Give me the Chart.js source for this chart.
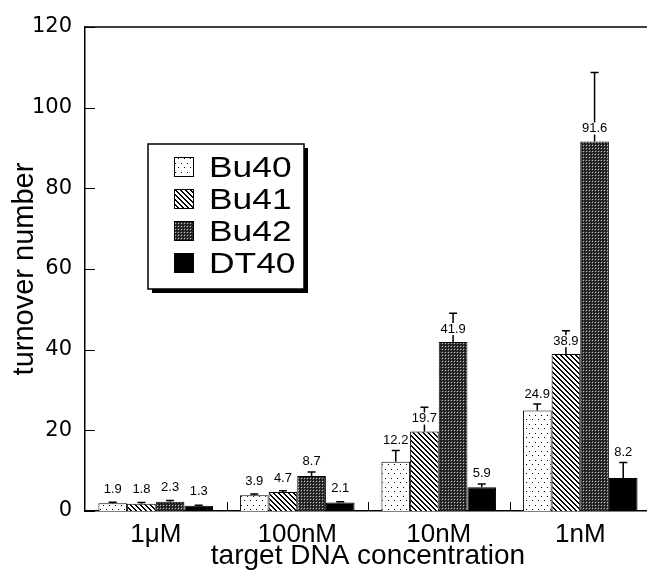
<!DOCTYPE html>
<html>
<head>
<meta charset="utf-8">
<script src="https://cdn.jsdelivr.net/npm/chart.js@4"></script>
<style>
html, body { margin: 0; padding: 0; background: #fff; overflow: hidden; }
#wrap { width: 647px; height: 577px; overflow: hidden; }
</style>
</head>
<body>
<div id="wrap"><canvas id="myChart" width="660" height="577"></canvas></div>
<script>
// data
var categories = ["1\u03bcM", "100nM", "10nM", "1nM"];
var seriesNames = ["Bu40", "Bu41", "Bu42", "DT40"];
var bu40 = [1.9, 3.9, 12.2, 24.9];
var bu41 = [1.8, 4.7, 19.7, 38.9];
var bu42 = [2.3, 8.7, 41.9, 91.6];
var dt40 = [1.3, 2.1, 5.9, 8.2];
// upper error bars
var bu40err = [0.3, 0.3, 2.8, 1.6];
var bu41err = [0.3, 0.3, 6.0, 5.8];
var bu42err = [0.3, 1.0, 7.1, 17.1];
var dt40err = [0.1, 0.2, 0.8, 3.8];
var yTicks = [0, 20, 40, 60, 80, 100, 120];

var FONT = '"Liberation Sans", Arial, sans-serif';
var WIDE = '"DejaVu Sans", sans-serif';

function makePattern(w, h, paint) {
    var c = document.createElement('canvas');
    c.width = w; c.height = h;
    var g = c.getContext('2d');
    paint(g);
    return document.getElementById('myChart').getContext('2d').createPattern(c, 'repeat');
}

// dotted
var dots = makePattern(6, 9, function (g) {
    g.fillStyle = '#fff'; g.fillRect(0, 0, 6, 9);
    g.fillStyle = '#000';
    g.fillRect(1, 1, 1, 1);
    g.fillRect(4, 5, 1, 1);
});
// hatched "\\\"
var hatch = makePattern(5, 5, function (g) {
    g.fillStyle = '#fff'; g.fillRect(0, 0, 5, 5);
    g.fillStyle = '#000';
    for (var i = 0; i < 5; i++) {
        g.fillRect(i, i, 1, 1);
        g.fillRect((i + 1) % 5, i, 1, 1);
    }
});
// dense gray
var gray = makePattern(3, 3, function (g) {
    g.fillStyle = '#3a3a3a'; g.fillRect(0, 0, 3, 3);
    g.fillStyle = '#000'; g.fillRect(0, 0, 1, 1); g.fillRect(2, 2, 1, 1);
    g.fillStyle = '#bbb'; g.fillRect(1, 1, 1, 1);
});

var allErrs = [bu40err, bu41err, bu42err, dt40err];

var extras = {
    id: 'extras',
    afterDatasetsDraw: function (chart) {
        var ctx = chart.ctx;
        var ys = chart.scales.y;
        ctx.save();
        // error bars
        chart.data.datasets.forEach(function (ds, i) {
            var meta = chart.getDatasetMeta(i);
            meta.data.forEach(function (el, j) {
                var capY = ys.getPixelForValue(ds.data[j] + allErrs[i][j]);
                ctx.strokeStyle = '#000';
                ctx.lineWidth = 1.5;
                ctx.beginPath();
                ctx.moveTo(el.x, el.y);
                ctx.lineTo(el.x, capY);
                ctx.moveTo(el.x - 4, capY);
                ctx.lineTo(el.x + 4, capY);
                ctx.stroke();
            });
        });
        // value labels
        ctx.font = '13px ' + FONT;
        ctx.textAlign = 'center';
        ctx.textBaseline = 'middle';
        chart.data.datasets.forEach(function (ds, i) {
            var meta = chart.getDatasetMeta(i);
            meta.data.forEach(function (el, j) {
                var capY = ys.getPixelForValue(ds.data[j] + allErrs[i][j]);
                var ly;
                if (el.y - capY > 20) ly = el.y - 13;
                else ly = Math.min(el.y - 14, capY - 10);
                var txt = ds.data[j].toFixed(1);
                var w = ctx.measureText(txt).width;
                ctx.fillStyle = '#fff';
                ctx.fillRect(el.x - w / 2 - 1, ly - 6, w + 2, 12);
                ctx.fillStyle = '#000';
                ctx.fillText(txt, el.x, ly);
            });
        });
        ctx.restore();
    },
    afterDraw: function (chart) {
        var ctx = chart.ctx;
        var a = chart.chartArea;
        var ys = chart.scales.y;
        var xs = chart.scales.x;
        ctx.save();
        ctx.strokeStyle = '#000';
        ctx.lineWidth = 1.5;
        // top frame line
        ctx.beginPath();
        ctx.moveTo(a.left, a.top);
        ctx.lineTo(a.right, a.top);
        ctx.stroke();
        // inward y ticks
        ctx.lineWidth = 1;
        ctx.beginPath();
        yTicks.forEach(function (v) {
            var p = Math.round(ys.getPixelForValue(v)) + 0.5;
            ctx.moveTo(a.left, p);
            ctx.lineTo(a.left + 10, p);
        });
        // category separators on x axis
        for (var k = 0; k < categories.length - 1; k++) {
            var bx = Math.round((xs.getPixelForTick(k) + xs.getPixelForTick(k + 1)) / 2) + 0.5;
            ctx.moveTo(bx, a.bottom);
            ctx.lineTo(bx, a.bottom - 9);
        }
        ctx.stroke();

        // legend box with shadow
        var lx = 148, ly = 144, lw = 156, lh = 145;
        ctx.fillStyle = '#000';
        ctx.fillRect(lx + 4, ly + 4, lw, lh);
        ctx.fillStyle = '#fff';
        ctx.fillRect(lx, ly, lw, lh);
        ctx.lineWidth = 1.5;
        ctx.strokeRect(lx, ly, lw, lh);
        ctx.font = '29px ' + FONT;
        ctx.textAlign = 'left';
        ctx.textBaseline = 'alphabetic';
        chart.data.datasets.forEach(function (ds, i) {
            var cy = 167 + i * 32;
            ctx.fillStyle = ds.backgroundColor;
            ctx.fillRect(174, cy - 10, 20, 20);
            ctx.lineWidth = 1;
            ctx.strokeStyle = '#000';
            ctx.strokeRect(174.5, cy - 9.5, 19, 19);
            ctx.fillStyle = '#000';
            // the original lettering is set wide
            ctx.save();
            ctx.translate(209, cy + 10);
            ctx.scale(1.22, 1);
            ctx.fillText(ds.label, 0, 0);
            ctx.restore();
        });
        ctx.restore();
    }
};

var ctx = document.getElementById('myChart').getContext('2d');
var chart = new Chart(ctx, {
    type: 'bar',
    data: {
        labels: categories,
        datasets: [
            { label: seriesNames[0], data: bu40, backgroundColor: dots },
            { label: seriesNames[1], data: bu41, backgroundColor: hatch },
            { label: seriesNames[2], data: bu42, backgroundColor: gray },
            { label: seriesNames[3], data: dt40, backgroundColor: '#000' }
        ]
    },
    options: {
        responsive: false,
        animation: false,
        layout: { padding: { top: 27, right: 9, left: 0, bottom: 0 } },
        datasets: {
            bar: {
                borderColor: '#000',
                borderWidth: 1,
                categoryPercentage: 0.81,
                barPercentage: 1.0
            }
        },
        plugins: {
            legend: { display: false },
            tooltip: { enabled: false }
        },
        scales: {
            x: {
                grid: { display: false, drawTicks: false },
                border: { display: true, color: '#000', width: 1.5 },
                ticks: { color: '#000', font: { family: FONT, size: 26 }, padding: 8 },
                title: {
                    display: true, text: 'target DNA concentration', color: '#000',
                    font: { family: FONT, size: 28 }, padding: { top: 0, bottom: 4 }
                },
                afterFit: function (s) { s.height = 66; }
            },
            y: {
                min: 0, max: 120,
                grid: { display: false, drawTicks: false },
                border: { display: true, color: '#000', width: 1.5 },
                ticks: { stepSize: 20, color: '#000', font: { family: WIDE, size: 21 }, padding: 13 },
                title: {
                    display: true, text: 'turnover number', color: '#000',
                    font: { family: FONT, size: 29 }, padding: { top: 8, bottom: 0 }
                },
                afterFit: function (s) { s.width = 85; }
            }
        }
    },
    plugins: [extras]
});
</script>
</body>
</html>
